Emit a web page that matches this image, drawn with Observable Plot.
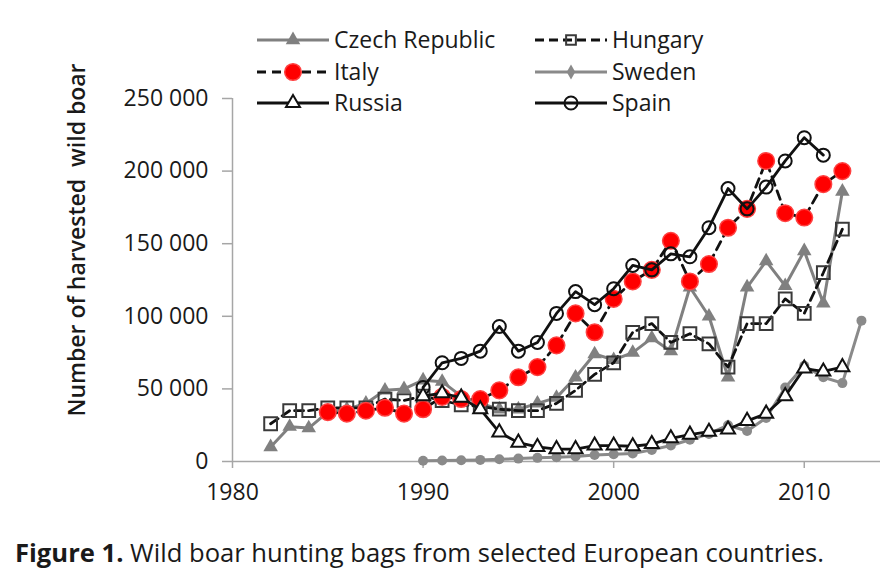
<!DOCTYPE html>
<html>
<head>
<meta charset="utf-8">
<script src="https://cdn.jsdelivr.net/npm/d3@7"></script>
<script src="https://cdn.jsdelivr.net/npm/@observablehq/plot@0.6"></script>
<style>
  body { margin: 0; background: #fff; }
  #wrap { position: relative; width: 884px; height: 582px; font-family: "Open Sans", sans-serif; color: #1a1a1a; overflow: hidden; }
  #chart svg { position: absolute; left: 0; top: 0; }
  #chart g[aria-label="x-axis tick"] path, #chart g[aria-label="y-axis tick"] path { stroke: #a6a6a6; stroke-width: 1.5px; }
  #chart text { fill: #1a1a1a; }
  .legtext { position: absolute; height: 32px; line-height: 32px; font-size: 23px; white-space: nowrap; color: #1a1a1a; }
  .legsw { position: absolute; }
  #ytitle { position: absolute; width: 420px; height: 30px; line-height: 30px; text-align: center; font-size: 23px; font-weight: 600; white-space: pre; transform: rotate(-90deg); transform-origin: 50% 50%; }
  #caption { position: absolute; left: 15px; top: 540px; font-size: 25.6px; line-height: 26px; white-space: nowrap; color: #1a1a1a; }
</style>
</head>
<body>
<div id="wrap">
  <div id="chart"></div>
  <div id="ytitle">Number of harvested  wild boar</div>
  <div id="caption"><b>Figure 1.</b> Wild boar hunting bags from selected European countries.</div>
</div>
<script>
// ---- Data ----
const czechYears = [1982,1983,1984,1985,1986,1987,1988,1989,1990,1991,1992,1993,1994,1995,1996,1997,1998,1999,2000,2001,2002,2003,2004,2005,2006,2007,2008,2009,2010,2011,2012];
const czechValues = [10000,24000,23000,34000,36000,40000,49000,50000,56000,55000,45000,40000,36000,36000,40000,44000,58000,74000,70000,75000,85000,76000,120000,100000,58000,120000,138000,121000,145000,109000,186000];

const hungaryYears = [1982,1983,1984,1985,1986,1987,1988,1989,1990,1991,1992,1993,1994,1995,1996,1997,1998,1999,2000,2001,2002,2003,2004,2005,2006,2007,2008,2009,2010,2011,2012];
const hungaryValues = [26000,35000,35000,37000,37000,37000,43000,42000,45000,42000,39000,38000,36000,35000,35000,40000,49000,60000,68000,89000,95000,82000,88000,81000,65000,95000,95000,112000,102000,130000,160000];

const italyYears = [1985,1986,1987,1988,1989,1990,1991,1992,1993,1994,1995,1996,1997,1998,1999,2000,2001,2002,2003,2004,2005,2006,2007,2008,2009,2010,2011,2012];
const italyValues = [34000,33000,35000,37000,33000,36000,44500,43000,43000,49000,58000,65000,80000,102000,89000,112000,124000,132000,152000,124000,136000,161000,174000,207000,171000,168000,191000,200000];

const swedenYears = [1990,1991,1992,1993,1994,1995,1996,1997,1998,1999,2000,2001,2002,2003,2004,2005,2006,2007,2008,2009,2010,2011,2012,2013];
const swedenValues = [500,700,900,1100,1500,2000,2500,3000,3500,4500,5000,5500,8000,11000,15000,19000,25000,21000,30000,51000,66000,58000,54000,97000];

const russiaYears = [1990,1991,1992,1993,1994,1995,1996,1997,1998,1999,2000,2001,2002,2003,2004,2005,2006,2007,2008,2009,2010,2011,2012];
const russiaValues = [45000,47000,44000,36000,20000,13000,10000,8500,8500,11000,11000,10500,12000,16000,18500,20500,22000,28000,33000,45000,64000,62000,65000];

const spainYears = [1990,1991,1992,1993,1994,1995,1996,1997,1998,1999,2000,2001,2002,2003,2004,2005,2006,2007,2008,2009,2010,2011];
const spainValues = [51000,68000,71000,76000,93000,76000,82000,102000,117000,108000,119000,135000,132000,143000,141000,161000,188000,174000,189000,207000,223000,211000];

const xTicks = [1980, 1990, 2000, 2010];
const yTicks = [0, 50000, 100000, 150000, 200000, 250000];
const seriesNames = ["Czech Republic", "Hungary", "Italy", "Sweden", "Russia", "Spain"];

// ---- Styles ----
const styles = {
  "Czech Republic": {line: "#808080", width: 3, dash: null, symbol: "triangle", r: 5.4, fill: "#808080", stroke: "none", sw: 0},
  "Hungary": {line: "#111", width: 2.8, dash: "9,5", symbol: "square", r: 7.2, fill: "none", stroke: "#3a3a3a", sw: 2},
  "Italy": {line: "#111", width: 2.8, dash: "9,6", symbol: "circle", r: 8.3, fill: "#ff0000", stroke: "#ff4040", sw: 1.5},
  "Sweden": {line: "#8a8a8a", width: 3, dash: null, symbol: "circle", r: 5, fill: "#8a8a8a", stroke: "none", sw: 0},
  "Russia": {line: "#111", width: 2.8, dash: null, symbol: "triangle", r: 5.2, fill: "#fff", stroke: "#111", sw: 2},
  "Spain": {line: "#111", width: 2.8, dash: null, symbol: "circle", r: 6.5, fill: "none", stroke: "#111", sw: 2}
};

const toRows = (name, ys, vs) => ys.map((y, i) => ({country: name, year: y, value: vs[i]}));
const data = {
  "Czech Republic": toRows("Czech Republic", czechYears, czechValues),
  "Hungary": toRows("Hungary", hungaryYears, hungaryValues),
  "Italy": toRows("Italy", italyYears, italyValues),
  "Sweden": toRows("Sweden", swedenYears, swedenValues),
  "Russia": toRows("Russia", russiaYears, russiaValues),
  "Spain": toRows("Spain", spainYears, spainValues)
};

const drawOrder = ["Czech Republic", "Sweden", "Hungary", "Italy", "Spain", "Russia"];
const seriesMarks = drawOrder.flatMap(name => {
  const s = styles[name];
  return [
    Plot.line(data[name], {x: "year", y: "value", stroke: s.line, strokeWidth: s.width, strokeDasharray: s.dash || undefined, curve: "linear"}),
    Plot.dot(data[name], {x: "year", y: "value", symbol: s.symbol, r: s.r, fill: s.fill, stroke: s.stroke, strokeWidth: s.sw})
  ];
});

const fmtY = d => d3.format(",")(d).replace(/,/g, " ");

const chart = Plot.plot({
  width: 884,
  height: 520,
  marginLeft: 232,
  marginRight: 4,
  marginTop: 98,
  marginBottom: 59,
  style: {fontFamily: "Open Sans", fontSize: "23px", background: "transparent", color: "#1a1a1a", overflow: "visible"},
  x: {domain: [1980, 2014]},
  y: {domain: [0, 250000]},
  marks: [
    Plot.ruleY([0], {stroke: "#a6a6a6", strokeWidth: 1.5}),
    Plot.ruleX([1980], {stroke: "#a6a6a6", strokeWidth: 1.5}),
    Plot.axisX({ticks: xTicks, tickFormat: d => String(d), tickSize: 7, tickPadding: 15, fontSize: 23, label: null}),
    Plot.axisY({ticks: yTicks, tickFormat: fmtY, tickSize: 10, tickPadding: 14, fontSize: 23, label: null}),
    ...seriesMarks
  ]
});
document.getElementById("chart").appendChild(chart);

// ---- Y title placement ----
const yt = document.getElementById("ytitle");
yt.style.left = (76 - 210) + "px";
yt.style.top = (240 - 15) + "px";

// ---- Legend ----
const wrap = document.getElementById("wrap");
const legendPos = {
  "Czech Republic": {sx: 257, tx: 334, y: 40},
  "Hungary": {sx: 535, tx: 612, y: 40},
  "Italy": {sx: 257, tx: 334, y: 71.5},
  "Sweden": {sx: 535, tx: 612, y: 71.5},
  "Russia": {sx: 257, tx: 334, y: 103},
  "Spain": {sx: 535, tx: 612, y: 103}
};
const symMap = {triangle: d3.symbolTriangle, square: d3.symbolSquare, circle: d3.symbolCircle};
seriesNames.forEach(name => {
  const s = styles[name], p = legendPos[name];
  const w = 72, h = 24;
  const svg = d3.select(wrap).append("svg")
    .attr("class", "legsw").attr("width", w).attr("height", h)
    .style("left", p.sx + "px").style("top", (p.y - h / 2) + "px");
  svg.append("line").attr("x1", 0).attr("x2", w).attr("y1", h / 2).attr("y2", h / 2)
    .attr("stroke", s.line).attr("stroke-width", s.width)
    .attr("stroke-dasharray", s.dash || null);
  let r = s.r;
  let sym = symMap[s.symbol];
  if (name === "Sweden") { sym = d3.symbolDiamond; r = 4.5; }
  if (name === "Hungary") { r = 5.5; }
  svg.append("path").attr("d", d3.symbol(sym, Math.PI * r * r)())
    .attr("transform", `translate(${w / 2},${h / 2})`)
    .attr("fill", s.fill).attr("stroke", s.stroke).attr("stroke-width", s.sw);
  const t = document.createElement("div");
  t.className = "legtext";
  t.textContent = name;
  t.style.left = p.tx + "px";
  t.style.top = (p.y - 16.7) + "px";
  wrap.appendChild(t);
});
</script>
</body>
</html>
